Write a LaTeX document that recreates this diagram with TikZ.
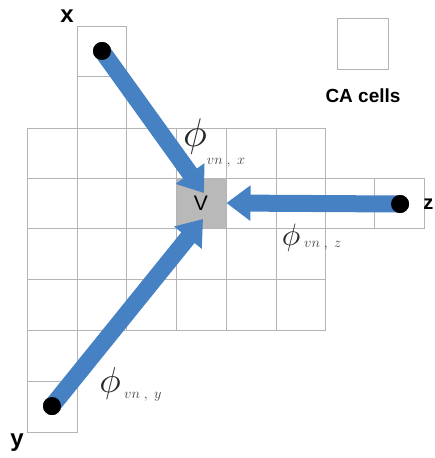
\documentclass[tikz,border=0pt]{standalone}
\usepackage{fontspec}
\usepackage{graphicx}
\setsansfont{Liberation Sans}
\usetikzlibrary{arrows.meta}
\definecolor{flowblue}{RGB}{70,130,195}
\definecolor{gridgray}{RGB}{180,180,180}
\tikzset{
  cell/.style={draw=gridgray, line width=0.9pt},
  dot/.style={circle, fill=black, inner sep=0pt, minimum size=18pt},
  flow/.style={draw=flowblue, line width=17pt, -{Triangle[width=34pt,length=24pt]}},
  axislabel/.style={font=\sffamily\bfseries\fontsize{24}{24}\selectfont, inner sep=0pt},
  philab/.style={inner sep=0pt, text=black!85},
  sublab/.style={font=\fontsize{14}{14}\selectfont, inner sep=0pt, text=black!75},
}
\begin{document}
\begin{tikzpicture}[x=1pt,y=-1pt]
\useasboundingbox (0,0) rectangle (434,458);
% grid
\draw[cell] (27,128) rectangle (325,330);
\foreach \xx in {77,126,176,226,276} \draw[cell] (\xx,128) -- (\xx,330);
\foreach \yy in {178,228,279} \draw[cell] (27,\yy) -- (325,\yy);
% top column
\draw[cell] (77,128) -- (77,26) -- (126,26) -- (126,128);
\draw[cell] (77,76) -- (126,76);
% right row
\draw[cell] (325,178) -- (424,178) -- (424,228) -- (325,228);
\draw[cell] (374,178) -- (374,228);
% bottom-left column
\draw[cell] (27,330) -- (27,432) -- (77,432) -- (77,330);
\draw[cell] (27,381) -- (77,381);
% legend
\node[cell, minimum size=51pt, inner sep=0pt] (legend) at (363,44) {};
\node[font=\sffamily\bfseries\fontsize{19}{19}\selectfont] (calabel) at (363,96) {CA cells};
% V cell
\node[draw=gridgray, fill=gray!55, minimum size=50pt, inner sep=0pt, line width=0.9pt,
      font=\sffamily\fontsize{21}{21}\selectfont] (V) at (201,203) {V};
% dots
\node[dot] (xd) at (102,51) {};
\node[dot] (zd) at (400,204) {};
\node[dot] (yd) at (52,406) {};
% tips
\coordinate (tx) at (204,193);
\coordinate (ty) at (203,219);
% arrows
\draw[flow] (xd.center) -- (tx);
\draw[flow] (zd.center) -- (V.east);
\draw[flow] (yd.center) -- (ty);
\node[dot] at (xd) {};
\node[dot] at (zd) {};
\node[dot] at (yd) {};
% axis labels
\node[axislabel] (xl) at (67,16) {x};
\node[axislabel, anchor=east, font=\sffamily\bfseries\fontsize{20}{20}\selectfont] (zl) at (433.5,204) {z};
\node[axislabel] (yl) at (17,443) {y};
% phi labels
\node[philab] (phx) at (195,136) {\scalebox{4}{$\phi$}};
\node[sublab] (phxs) at (226,163) {$vn\;,\;x$};
\node[philab] (phz) at (291,238) {\scalebox{3.1}{$\phi$}};
\node[sublab, anchor=west] (phzs) at (304,246) {$vn\;,\;z$};
\node[philab] (phy) at (110,383) {\scalebox{3.6}{$\phi$}};
\node[sublab, anchor=west] (phys) at (124,397) {$vn\;,\;y$};
\end{tikzpicture}
\end{document}
